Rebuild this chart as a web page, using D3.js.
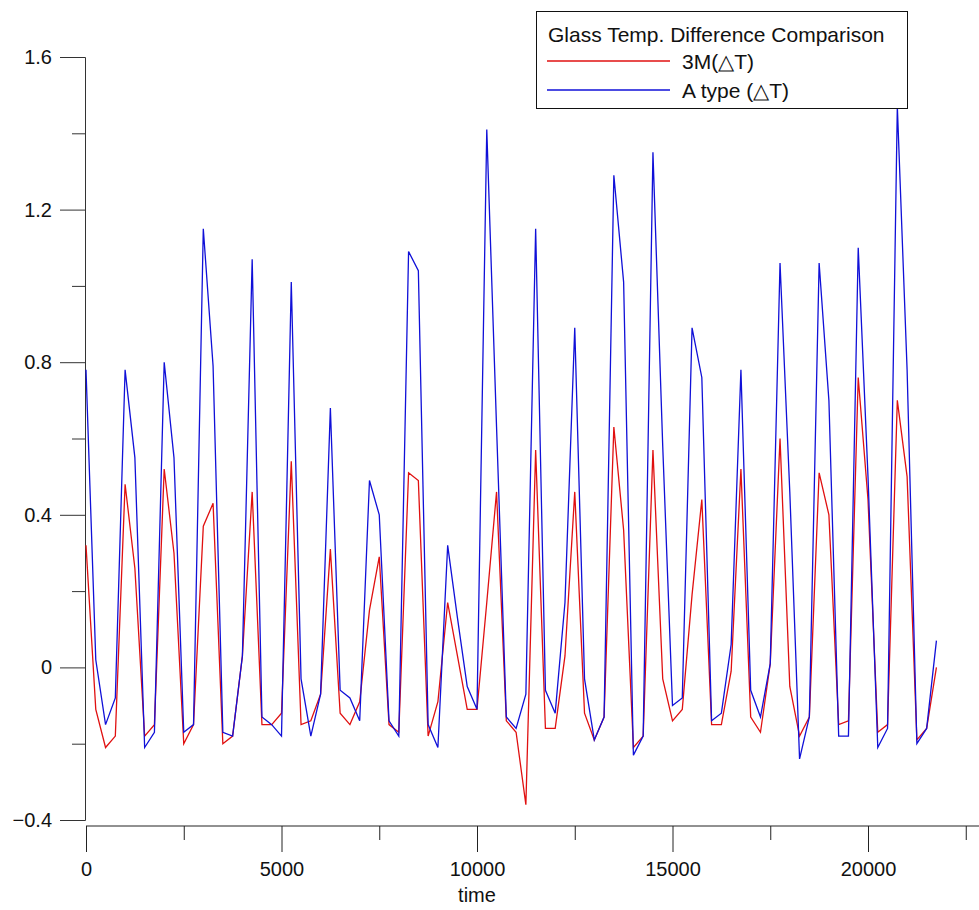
<!DOCTYPE html>
<html>
<head>
<meta charset="utf-8">
<script src="https://cdn.jsdelivr.net/npm/d3@7"></script>
<style>
  body { margin: 0; background: #fff; }
  svg { display: block; font-family: "Liberation Sans", Arial, sans-serif; }
</style>
</head>
<body>
<div id="chart"></div>
<script>
// Data
const times = [
  0, 250, 500, 750, 1000, 1250, 1500, 1750, 2000, 2250,
  2500, 2750, 3000, 3250, 3500, 3750, 4000, 4250, 4500, 4750,
  5000, 5250, 5500, 5750, 6000, 6250, 6500, 6750, 7000, 7250,
  7500, 7750, 8000, 8250, 8500, 8750, 9000, 9250, 9500, 9750,
  10000, 10250, 10500, 10750, 11000, 11250, 11500, 11750, 12000, 12250,
  12500, 12750, 13000, 13250, 13500, 13750, 14000, 14250, 14500, 14750,
  15000, 15250, 15500, 15750, 16000, 16250, 16500, 16750, 17000, 17250,
  17500, 17750, 18000, 18250, 18500, 18750, 19000, 19250, 19500, 19750,
  20000, 20250, 20500, 20750, 21000, 21250, 21500, 21750,
];

const series3M = [
  0.32, -0.11, -0.21, -0.18, 0.48, 0.26, -0.18, -0.15, 0.52, 0.30,
  -0.20, -0.15, 0.37, 0.43, -0.20, -0.18, 0.03, 0.46, -0.15, -0.15,
  -0.12, 0.54, -0.15, -0.14, -0.07, 0.31, -0.12, -0.15, -0.09, 0.15,
  0.29, -0.15, -0.17, 0.51, 0.49, -0.18, -0.09, 0.17, 0.03, -0.11,
  -0.11, 0.17, 0.46, -0.14, -0.17, -0.36, 0.57, -0.16, -0.16, 0.03,
  0.46, -0.12, -0.19, -0.13, 0.63, 0.36, -0.21, -0.18, 0.57, -0.03,
  -0.14, -0.11, 0.19, 0.44, -0.15, -0.15, -0.01, 0.52, -0.13, -0.17,
  0.01, 0.60, -0.05, -0.18, -0.13, 0.51, 0.40, -0.15, -0.14, 0.76,
  0.44, -0.17, -0.15, 0.70, 0.50, -0.19, -0.16, 0.00,
];

const seriesA = [
  0.78, 0.02, -0.15, -0.08, 0.78, 0.55, -0.21, -0.17, 0.80, 0.55,
  -0.17, -0.15, 1.15, 0.79, -0.17, -0.18, 0.03, 1.07, -0.13, -0.15,
  -0.18, 1.01, -0.03, -0.18, -0.07, 0.68, -0.06, -0.08, -0.14, 0.49,
  0.40, -0.14, -0.18, 1.09, 1.04, -0.15, -0.21, 0.32, 0.13, -0.05,
  -0.11, 1.41, 0.63, -0.13, -0.16, -0.07, 1.15, -0.06, -0.12, 0.17,
  0.89, -0.03, -0.19, -0.13, 1.29, 1.01, -0.23, -0.18, 1.35, 0.58,
  -0.10, -0.08, 0.89, 0.76, -0.14, -0.12, 0.06, 0.78, -0.06, -0.13,
  0.01, 1.06, 0.46, -0.24, -0.13, 1.06, 0.70, -0.18, -0.18, 1.10,
  0.50, -0.21, -0.16, 1.47, 0.78, -0.20, -0.16, 0.07,
];

const seriesNames = ["3M(\u25B3T)", "A type (\u25B3T)"];
const seriesColors = ["#e01010", "#1010d8"];
const legendTitle = "Glass Temp. Difference Comparison";
const xTicksMajor = [0, 5000, 10000, 15000, 20000];
const xTicksMinor = [2500, 7500, 12500, 17500, 22500];
const yTicksMajor = [-0.4, 0, 0.4, 0.8, 1.2, 1.6];
const yTicksMinor = [-0.2, 0.2, 0.6, 1.0, 1.4];

// Layout
const width = 979;
const height = 910;

const svg = d3
  .select("#chart")
  .append("svg")
  .attr("width", width)
  .attr("height", height);

const x = d3.scaleLinear().domain([0, 5000]).range([86, 281.5]);
const y = d3.scaleLinear().domain([-0.4, 1.6]).range([820, 57]);

// Y axis (Origin style, detached from x axis)
const yAxisG = svg.append("g").attr("transform", "translate(85,0)");
yAxisG
  .call(
    d3.axisLeft(y).tickValues(yTicksMajor).tickSize(25).tickPadding(8)
      .tickFormat((d) => (d === 0 ? "0" : d3.format(".1f")(d))),
  )
  .call((g) => g.selectAll("text").style("font-size", "20px").attr("fill", "#111"));
yAxisG
  .append("g")
  .call(d3.axisLeft(y).tickValues(yTicksMinor).tickSize(13).tickFormat(""))
  .call((g) => g.select(".domain").remove());
yAxisG.selectAll("line, path").attr("stroke", "#333");

// X axis
const xAxisG = svg.append("g").attr("transform", "translate(0,826)");
xAxisG
  .call(
    d3.axisBottom(x).tickValues(xTicksMajor).tickSize(26).tickPadding(10)
      .tickSizeOuter(0).tickFormat(d3.format("d")),
  )
  .call((g) => g.selectAll("text").style("font-size", "20px").attr("fill", "#111"));
xAxisG
  .append("g")
  .call(d3.axisBottom(x).tickValues(xTicksMinor).tickSize(14).tickFormat(""))
  .call((g) => g.select(".domain").remove());
xAxisG.select(".domain").attr("d", `M86,0H${width}`);
xAxisG.selectAll("line, path").attr("stroke", "#222");

svg
  .append("text")
  .attr("x", x(10000))
  .attr("y", 902)
  .attr("text-anchor", "middle")
  .style("font-size", "20px")
  .attr("fill", "#111")
  .text("time");

// Lines
const line = d3
  .line()
  .x((d, i) => x(times[i]))
  .y((d) => y(d));

[series3M, seriesA].forEach((values, i) => {
  svg
    .append("path")
    .datum(values)
    .attr("fill", "none")
    .attr("stroke", seriesColors[i])
    .attr("stroke-width", 1.3)
    .attr("stroke-linejoin", "miter")
    .attr("d", line);
});

// Legend
const legend = svg.append("g");
legend
  .append("rect")
  .attr("x", 536.5)
  .attr("y", 11.5)
  .attr("width", 371)
  .attr("height", 97)
  .attr("fill", "#fff")
  .attr("stroke", "#111")
  .attr("stroke-width", 1);

legend
  .append("text")
  .attr("x", 548)
  .attr("y", 42)
  .style("font-size", "21px")
  .attr("fill", "#111")
  .text(legendTitle);

seriesNames.forEach((name, i) => {
  const ly = 61 + i * 29;
  legend
    .append("line")
    .attr("x1", 547)
    .attr("x2", 670)
    .attr("y1", ly)
    .attr("y2", ly)
    .attr("stroke", seriesColors[i])
    .attr("stroke-width", 1.3);
  legend
    .append("text")
    .attr("x", 682)
    .attr("y", ly + 8)
    .style("font-size", "21px")
    .attr("fill", "#111")
    .text(name);
});
</script>
</body>
</html>
